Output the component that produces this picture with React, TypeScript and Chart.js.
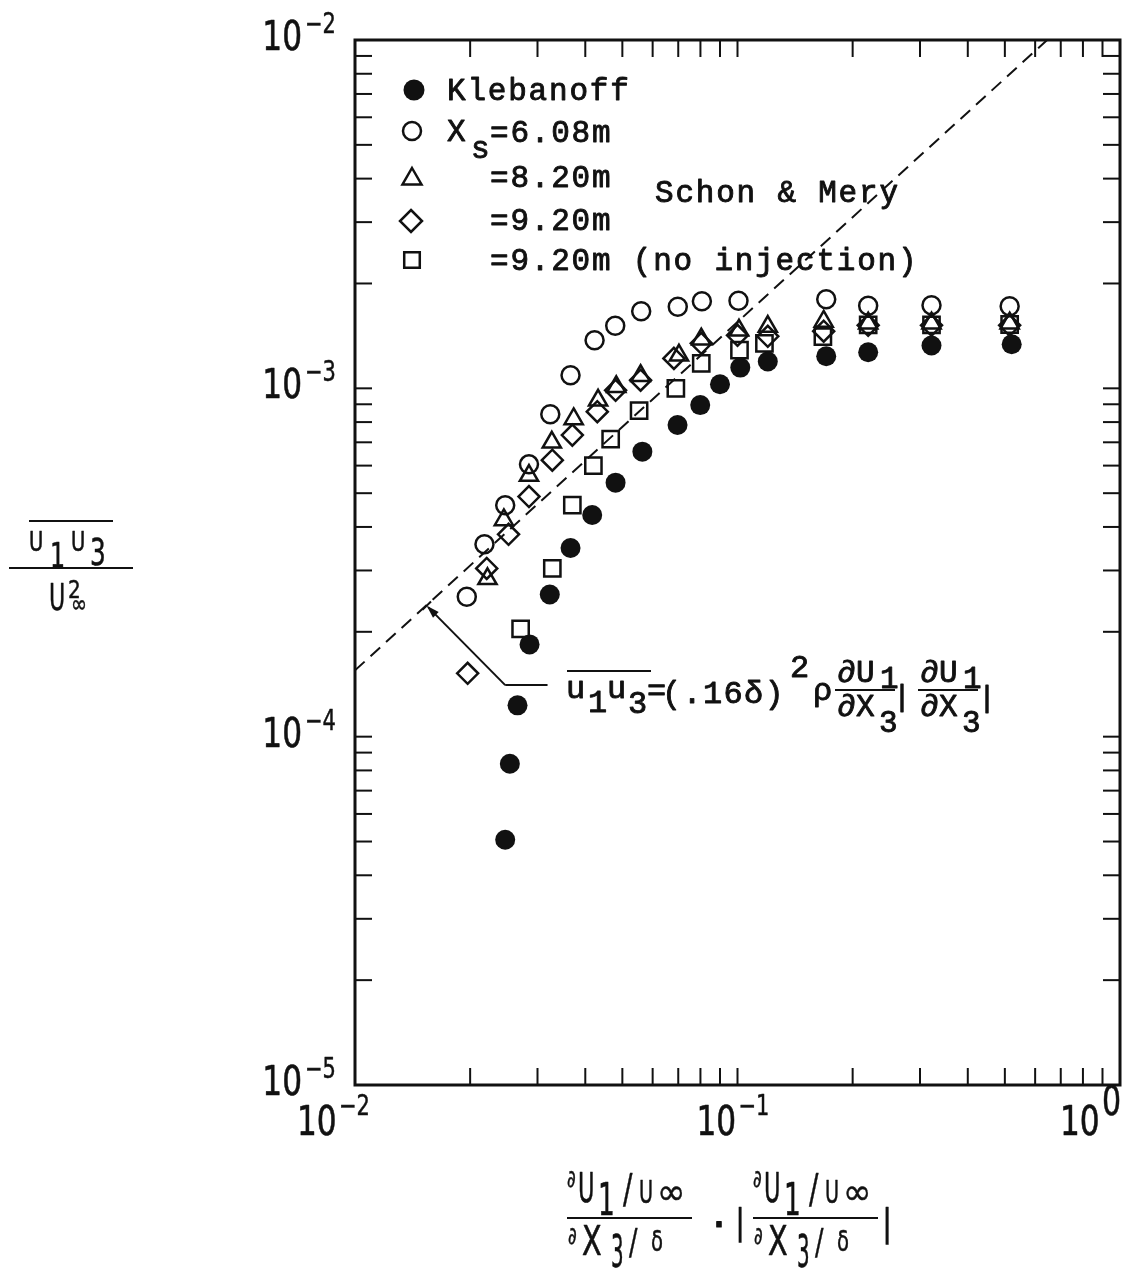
import React, { useEffect, useRef } from 'react';
import { Chart, registerables } from 'chart.js';

Chart.register(...registerables);

// ---------- data ----------
const klebanoffX = [0.0247, 0.0254, 0.0266, 0.0286, 0.0323, 0.0366, 0.0417, 0.048, 0.0564, 0.0697, 0.0799, 0.09, 0.1017, 0.12, 0.1706, 0.2196, 0.3215, 0.521];
const klebanoffY = [5.06e-5, 8.36e-5, 1.23e-4, 1.84e-4, 2.56e-4, 3.48e-4, 4.33e-4, 5.36e-4, 6.58e-4, 7.85e-4, 8.95e-4, 1.027e-3, 1.147e-3, 1.194e-3, 1.236e-3, 1.269e-3, 1.327e-3, 1.338e-3];

const xs608X = [0.0196, 0.0218, 0.0247, 0.0285, 0.0324, 0.0366, 0.0423, 0.0479, 0.056, 0.0698, 0.0807, 0.1006, 0.1706, 0.2196, 0.3215, 0.5146];
const xs608Y = [2.52e-4, 3.57e-4, 4.62e-4, 6.05e-4, 8.42e-4, 1.09e-3, 1.375e-3, 1.513e-3, 1.664e-3, 1.714e-3, 1.778e-3, 1.784e-3, 1.803e-3, 1.726e-3, 1.731e-3, 1.72e-3];

const xs820X = [0.0222, 0.0245, 0.0285, 0.0327, 0.0373, 0.0432, 0.0482, 0.0558, 0.0703, 0.0804, 0.1009, 0.12, 0.168, 0.2196, 0.3215, 0.5146];
const xs820Y = [2.84e-4, 4.19e-4, 5.62e-4, 7.0e-4, 8.17e-4, 9.24e-4, 1.01e-3, 1.087e-3, 1.244e-3, 1.384e-3, 1.468e-3, 1.504e-3, 1.556e-3, 1.538e-3, 1.538e-3, 1.538e-3];

const xs920X = [0.0197, 0.0221, 0.0252, 0.0285, 0.0328, 0.037, 0.043, 0.048, 0.0558, 0.0682, 0.0804, 0.1, 0.12, 0.168, 0.2196, 0.3215, 0.5146];
const xs920Y = [1.52e-4, 3.04e-4, 3.81e-4, 4.89e-4, 6.22e-4, 7.34e-4, 8.57e-4, 9.87e-4, 1.055e-3, 1.219e-3, 1.347e-3, 1.42e-3, 1.41e-3, 1.459e-3, 1.517e-3, 1.517e-3, 1.517e-3];

const xs920niX = [0.0271, 0.0328, 0.037, 0.042, 0.0466, 0.0553, 0.069, 0.0804, 0.1012, 0.1176, 0.1672, 0.2196, 0.3215, 0.5146];
const xs920niY = [2.04e-4, 3.04e-4, 4.62e-4, 6.0e-4, 7.15e-4, 8.63e-4, 1.0e-3, 1.18e-3, 1.288e-3, 1.347e-3, 1.408e-3, 1.52e-3, 1.52e-3, 1.525e-3];

// Schon & Mery mixing-length line
const schonMeryX = [0.01, 0.645];
const schonMeryY = [1.55e-4, 1.0e-2];

// annotation arrow (tip on the dashed line, elbow, end of horizontal leader)
const arrowX = [0.01553, 0.0247, 0.03187];
const arrowY = [2.355e-4, 1.406e-4, 1.406e-4];

// axes
const xMin = 0.01, xMax = 1;
const yMin = 1e-5, yMax = 1e-2;
const xDecades = [0.01, 0.1, 1];
const yDecades = [1e-5, 1e-4, 1e-3, 1e-2];
const xTickExp = ['\u22122', '\u22121', '0'];
const yTickExp = ['\u22125', '\u22124', '\u22123', '\u22122'];
const minorMultipliers = [1, 2, 3, 4, 5, 6, 7, 8, 9];

const legendLabels = ['Klebanoff', 'X', '=8.20m', '=9.20m', '=9.20m (no injection)'];
const INK = '#111';
const MONO = '"Liberation Mono", "DejaVu Sans Mono", monospace';
const SANS = '"DejaVu Sans", sans-serif';

const pts = (xs: number[], ys: number[]) => xs.map((x, i) => ({ x, y: ys[i] }));

function txt(ctx: CanvasRenderingContext2D, s: string, x: number, y: number, size: number, family: string, sx = 1, align: CanvasTextAlign = 'left', bold = 0) {
  ctx.save();
  ctx.translate(x, y);
  ctx.scale(sx, 1);
  ctx.font = `${size}px ${family}`;
  ctx.textAlign = align;
  ctx.textBaseline = 'alphabetic';
  ctx.fillStyle = INK;
  ctx.fillText(s, 0, 0);
  if (bold > 0) {
    ctx.lineWidth = bold;
    ctx.strokeStyle = INK;
    ctx.lineJoin = 'round';
    ctx.strokeText(s, 0, 0);
  }
  ctx.restore();
}

function mono(ctx: CanvasRenderingContext2D, s: string, x: number, y: number, size: number) {
  txt(ctx, s, x, y, size, MONO, 1, 'left', 0.9);
}

function spaced(ctx: CanvasRenderingContext2D, s: string, x: number, y: number, size: number, adv: number) {
  for (let i = 0; i < s.length; i++) {
    if (s[i] !== ' ') mono(ctx, s[i], x + i * adv, y, size);
  }
}

function line(ctx: CanvasRenderingContext2D, x1: number, y1: number, x2: number, y2: number, w = 2) {
  ctx.beginPath();
  ctx.lineWidth = w;
  ctx.strokeStyle = INK;
  ctx.moveTo(x1, y1);
  ctx.lineTo(x2, y2);
  ctx.stroke();
}

function symbol(ctx: CanvasRenderingContext2D, kind: string, x: number, y: number, r: number) {
  ctx.save();
  ctx.beginPath();
  ctx.lineWidth = 2.5;
  ctx.strokeStyle = INK;
  ctx.fillStyle = INK;
  if (kind === 'filled') {
    ctx.arc(x, y, r, 0, Math.PI * 2);
    ctx.fill();
  } else if (kind === 'circle') {
    ctx.arc(x, y, r, 0, Math.PI * 2);
    ctx.stroke();
  } else if (kind === 'triangle') {
    ctx.moveTo(x, y - r);
    ctx.lineTo(x + 0.866 * r, y + 0.5 * r);
    ctx.lineTo(x - 0.866 * r, y + 0.5 * r);
    ctx.closePath();
    ctx.stroke();
  } else if (kind === 'diamond') {
    ctx.moveTo(x, y - r);
    ctx.lineTo(x + r, y);
    ctx.lineTo(x, y + r);
    ctx.lineTo(x - r, y);
    ctx.closePath();
    ctx.stroke();
  } else {
    const s = r * Math.SQRT1_2;
    ctx.rect(x - s, y - s, 2 * s, 2 * s);
    ctx.stroke();
  }
  ctx.restore();
}

// horizontal placement of the x tick labels relative to their decade (layout)
const xLabelLeftOffset = [-58, -41, -60];

const framePlugin = {
  id: 'frameAndText',
  beforeDraw(chart: any) {
    const ctx = chart.ctx;
    ctx.save();
    ctx.fillStyle = '#fff';
    ctx.fillRect(0, 0, chart.width, chart.height);
    ctx.restore();
  },
  afterDraw(chart: any) {
    const ctx: CanvasRenderingContext2D = chart.ctx;
    const xs = chart.scales.x;
    const ys = chart.scales.y;
    const { left, right, top, bottom } = chart.chartArea;
    ctx.save();

    // frame
    ctx.lineWidth = 3;
    ctx.strokeStyle = INK;
    ctx.strokeRect(left, top, right - left, bottom - top);

    // inward ticks
    const TL = 17;
    for (const d of xDecades) {
      for (const m of minorMultipliers) {
        const v = d * m;
        if (v <= xMin * 1.0001 || v >= xMax * 0.9999) continue;
        const px = xs.getPixelForValue(v);
        line(ctx, px, bottom, px, bottom - TL, 2);
        line(ctx, px, top, px, top + TL, 2);
      }
    }
    for (const d of yDecades) {
      for (const m of minorMultipliers) {
        const v = d * m;
        if (v <= yMin * 1.0001 || v >= yMax * 0.9999) continue;
        const py = ys.getPixelForValue(v);
        line(ctx, left, py, left + TL, py, 2);
        line(ctx, right, py, right - TL, py, 2);
      }
    }

    // y tick labels
    yDecades.forEach((d, i) => {
      const py = ys.getPixelForValue(d);
      txt(ctx, '10', 302, py + 10, 40, SANS, 0.78, 'right', 0.6);
      txt(ctx, yTickExp[i], 305, py - 7, 28, SANS, 0.75, 'left', 0.5);
    });
    // x tick labels
    xDecades.forEach((d, i) => {
      const px = xs.getPixelForValue(d);
      const lx = px + xLabelLeftOffset[i];
      txt(ctx, '10', lx, bottom + 50, 40, SANS, 0.78, 'left', 0.6);
      txt(ctx, xTickExp[i], lx + 42, bottom + 30, i === 2 ? 40 : 28, SANS, 0.75, 'left', 0.5);
    });

    // y axis title: overline(u1u3) / U_inf^2
    line(ctx, 29, 521, 113, 521, 2);
    txt(ctx, 'U', 29, 551, 26, SANS, 0.75, 'left', 0.6);
    txt(ctx, '1', 50, 567, 34, SANS, 0.7, 'left', 0.6);
    txt(ctx, 'U', 71, 551, 26, SANS, 0.75, 'left', 0.6);
    txt(ctx, '3', 90, 565, 38, SANS, 0.65, 'left', 0.6);
    line(ctx, 9, 568, 133, 568, 2);
    txt(ctx, 'U', 49, 610, 37, SANS, 0.6, 'left', 0.6);
    txt(ctx, '2', 68, 598, 25, SANS, 0.8, 'left', 0.5);
    txt(ctx, '\u221e', 71, 612, 24, SANS, 0.8, 'left', 0.5);

    // x axis title
    const xFrac = (x0: number) => {
      txt(ctx, '\u2202', x0, 1187, 24, SANS, 0.7, 'left', 0.5);
      txt(ctx, 'U', x0 + 11, 1202, 41, SANS, 0.55, 'left', 0.6);
      txt(ctx, '1', x0 + 31, 1215, 44, SANS, 0.6, 'left', 0.6);
      txt(ctx, '/', x0 + 56, 1203, 40, SANS, 0.7, 'left', 0.5);
      txt(ctx, 'U', x0 + 72, 1203, 32, SANS, 0.6, 'left', 0.6);
      txt(ctx, '\u221e', x0 + 90, 1204, 36, SANS, 0.95, 'left', 0.5);
      line(ctx, x0, 1218, x0 + 125, 1218, 2);
      txt(ctx, '\u2202', x0 + 1, 1244, 24, SANS, 0.7, 'left', 0.5);
      txt(ctx, 'X', x0 + 15, 1255, 41, SANS, 0.7, 'left', 0.6);
      txt(ctx, '3', x0 + 44, 1267, 44, SANS, 0.45, 'left', 0.6);
      txt(ctx, '/', x0 + 62, 1254, 36, SANS, 0.7, 'left', 0.5);
      txt(ctx, '\u03b4', x0 + 84, 1251, 28, SANS, 0.7, 'left', 0.5);
    };
    xFrac(567);
    txt(ctx, '\u00b7', 712, 1240, 44, SANS, 1, 'left', 1);
    txt(ctx, '|', 740, 1234, 36, SANS, 0.8, 'center', 0.5);
    xFrac(753);
    txt(ctx, '|', 887, 1235, 38, SANS, 0.8, 'center', 0.5);

    // legend
    const ADV = 20.4;
    const LX = 447;
    const rows = [100, 141, 187, 230, 270];
    const FS = 31;
    symbol(ctx, 'filled', 414, rows[0] - 10, 10.5);
    spaced(ctx, legendLabels[0], LX, rows[0], FS, ADV);
    symbol(ctx, 'circle', 412, rows[1] - 10, 9);
    mono(ctx, legendLabels[1], LX, rows[1], FS);
    mono(ctx, 's', LX + 24, rows[1] + 17, FS);
    spaced(ctx, '=6.08m', 490, rows[1] + 1, FS, ADV);
    symbol(ctx, 'triangle', 412, rows[2] - 8, 11);
    spaced(ctx, legendLabels[2], 490, rows[2], FS, ADV);
    symbol(ctx, 'diamond', 411, rows[3] - 9, 11);
    spaced(ctx, legendLabels[3], 490, rows[3], FS, ADV);
    symbol(ctx, 'square', 412, rows[4] - 10, 11);
    spaced(ctx, legendLabels[4], 490, rows[4], FS, ADV);

    spaced(ctx, 'Schon & Mery', 655, 202, FS, ADV);

    // annotation arrow
    const ax = arrowX.map((v) => xs.getPixelForValue(v));
    const ay = arrowY.map((v) => ys.getPixelForValue(v));
    line(ctx, ax[1], ay[1], ax[0], ay[0], 2);
    line(ctx, ax[1], ay[1], ax[2], ay[2], 2);
    {
      const dx = ax[0] - ax[1], dy = ay[0] - ay[1];
      const L = Math.hypot(dx, dy);
      const ux = dx / L, uy = dy / L;
      const nx = -uy, ny = ux;
      ctx.beginPath();
      ctx.fillStyle = INK;
      const tx = ax[0] + ux * 2, ty = ay[0] + uy * 2;
      ctx.moveTo(tx, ty);
      ctx.lineTo(tx - ux * 13 + nx * 4, ty - uy * 13 + ny * 4);
      ctx.lineTo(tx - ux * 13 - nx * 4, ty - uy * 13 - ny * 4);
      ctx.closePath();
      ctx.fill();
      line(ctx, tx + nx * 6, ty + ny * 6, tx - nx * 6, ty - ny * 6, 2);
    }

    // formula
    const F = 32;
    mono(ctx, 'u', 566, 698, F);
    mono(ctx, '1', 588, 712, F);
    mono(ctx, 'u', 607, 698, F);
    mono(ctx, '3', 628, 713, F);
    line(ctx, 567, 671, 651, 671, 2);
    mono(ctx, '=', 647, 700, F);
    spaced(ctx, '(.16\u03b4)', 662, 703, F, 20.5);
    mono(ctx, '2', 790, 677, F);
    mono(ctx, '\u03c1', 813, 700, F);
    const fFrac = (x0: number) => {
      mono(ctx, '\u2202', x0, 682, 31);
      mono(ctx, 'U', x0 + 19, 682, 31);
      mono(ctx, '1', x0 + 43, 688, 31);
      line(ctx, x0 - 2, 690, x0 + 58, 690, 2);
      mono(ctx, '\u2202', x0, 716, 31);
      mono(ctx, 'X', x0 + 19, 716, 31);
      mono(ctx, '3', x0 + 42, 732, 31);
    };
    fFrac(837);
    mono(ctx, '|', 893, 706, 30);
    fFrac(920);
    mono(ctx, '|', 978, 707, 30);

    ctx.restore();
  },
};

export default function App() {
  const ref = useRef<HTMLCanvasElement | null>(null);
  useEffect(() => {
    if (!ref.current) return;
    const open = 'rgba(0,0,0,0)';
    const chart = new Chart(ref.current, {
      type: 'scatter',
      data: {
        datasets: [
          {
            type: 'line',
            label: 'Schon & Mery',
            data: pts(schonMeryX, schonMeryY),
            borderColor: INK,
            borderWidth: 2,
            borderDash: [13, 8],
            pointRadius: 0,
            fill: false,
            tension: 0,
          } as any,
          {
            label: 'Klebanoff',
            data: pts(klebanoffX, klebanoffY),
            pointStyle: 'circle',
            pointRadius: 10,
            backgroundColor: INK,
            borderColor: INK,
            borderWidth: 0,
          },
          {
            label: 'Xs=6.08m',
            data: pts(xs608X, xs608Y),
            pointStyle: 'circle',
            pointRadius: 9,
            backgroundColor: open,
            borderColor: INK,
            borderWidth: 2.5,
          },
          {
            label: '=8.20m',
            data: pts(xs820X, xs820Y),
            pointStyle: 'triangle',
            pointRadius: 10.5,
            backgroundColor: open,
            borderColor: INK,
            borderWidth: 2.5,
          },
          {
            label: '=9.20m',
            data: pts(xs920X, xs920Y),
            pointStyle: 'rectRot',
            pointRadius: 10.5,
            backgroundColor: open,
            borderColor: INK,
            borderWidth: 2.5,
          },
          {
            label: '=9.20m (no injection)',
            data: pts(xs920niX, xs920niY),
            pointStyle: 'rect',
            pointRadius: 11.5,
            backgroundColor: open,
            borderColor: INK,
            borderWidth: 2.5,
          },
        ],
      },
      options: {
        responsive: false,
        animation: false,
        devicePixelRatio: 1,
        events: [],
        layout: { padding: { left: 355, right: 25, top: 40, bottom: 185 } },
        plugins: { legend: { display: false }, tooltip: { enabled: false } },
        scales: {
          x: { type: 'logarithmic', min: xMin, max: xMax, display: false },
          y: { type: 'logarithmic', min: yMin, max: yMax, display: false },
        },
      },
      plugins: [framePlugin],
    });
    return () => chart.destroy();
  }, []);
  return (
    <div style={{ position: 'absolute', left: 0, top: 0, width: 1145, height: 1270, background: '#fff' }}>
      <canvas ref={ref} width={1145} height={1270} style={{ width: 1145, height: 1270, display: 'block' }} />
    </div>
  );
}
